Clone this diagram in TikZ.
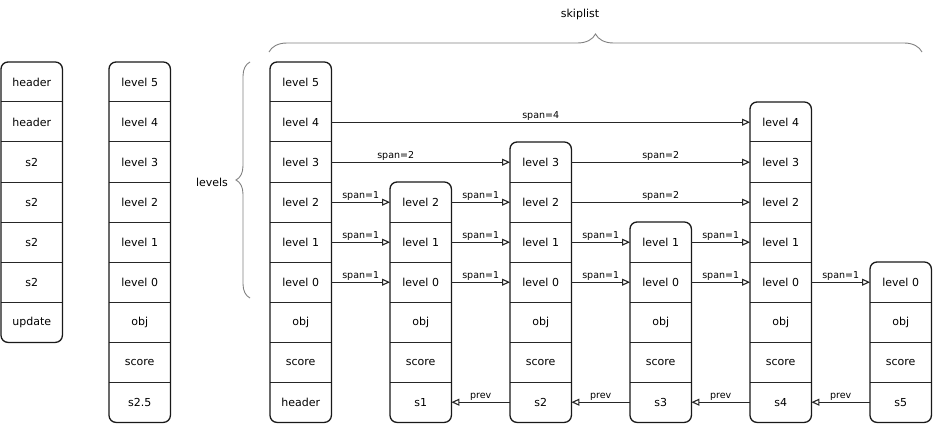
\documentclass[tikz,border=0pt]{standalone}
\usepackage{fontspec}
\setmainfont{DejaVu Sans}
\usetikzlibrary{arrows.meta,decorations.pathreplacing}
\newcommand\skipcol[5]{% #1 prefix, #2 left x, #3 top y, #4 last id, #5 list id/label
  \foreach \id/\txt [count=\i from 0] in {#5} {
    \node[cell,anchor=north west] (#1-\id) at (#2,#3+40*\i) {\txt};
    \ifnum\i>0 \draw[sep] (#1-\id.north west) -- (#1-\id.north east);\fi
  }
  \draw[colbox] (#2,#3) rectangle (#1-#4.south east);
}
\begin{document}
\begin{tikzpicture}[x=1pt,y=-1pt,
  cell/.style={minimum width=61pt,minimum height=40pt,inner sep=0pt,font=\fontsize{11}{13}\selectfont},
  colbox/.style={draw=black!90,line width=1.3pt,rounded corners=7pt},
  sep/.style={draw=black!85,line width=1pt},
  link/.style={draw=black!85,line width=1.1pt,-{Triangle[open,length=8pt,width=7pt]}},
  lbl/.style={font=\fontsize{9.5}{11}\selectfont,inner sep=1.5pt,above},
  bracestyle/.style={draw=black!50,line width=0.9pt,decorate}]
\useasboundingbox (0,0) rectangle (934,425);

\skipcol{u}{1}{62}{g}{a/header,b/header,c/s2,d/s2,e/s2,f/s2,g/update}
\skipcol{x}{109}{62}{name}{l5/level 5,l4/level 4,l3/level 3,l2/level 2,l1/level 1,l0/level 0,obj/obj,score/score,name/s2.5}
\skipcol{hd}{270}{62}{name}{l5/level 5,l4/level 4,l3/level 3,l2/level 2,l1/level 1,l0/level 0,obj/obj,score/score,name/header}
\skipcol{sa}{390}{182}{name}{l2/level 2,l1/level 1,l0/level 0,obj/obj,score/score,name/s1}
\skipcol{sb}{510}{142}{name}{l3/level 3,l2/level 2,l1/level 1,l0/level 0,obj/obj,score/score,name/s2}
\skipcol{sc}{630}{222}{name}{l1/level 1,l0/level 0,obj/obj,score/score,name/s3}
\skipcol{sd}{750}{102}{name}{l4/level 4,l3/level 3,l2/level 2,l1/level 1,l0/level 0,obj/obj,score/score,name/s4}
\skipcol{se}{870}{262}{name}{l0/level 0,obj/obj,score/score,name/s5}

% braces
\coordinate (lvA) at (250,298);
\coordinate (lvB) at (250,62);
\draw[bracestyle,decoration={brace,amplitude=14pt}] (lvA) -- (lvB);
\node[font=\fontsize{11}{13}\selectfont] (lvlabel) at (212,182) {levels};
\coordinate (skA) at (269,52);
\coordinate (skB) at (922,52);
\draw[bracestyle,decoration={brace,amplitude=18pt}] (skA) -- (skB);
\node[font=\fontsize{11}{13}\selectfont] (sklabel) at (580,14) {skiplist};

% forward links
\draw[link] (hd-l4.east) -- node[lbl]{span=4} (sd-l4.west);
\draw[link] (hd-l3.east) -- node[lbl,pos=0.36]{span=2} (sb-l3.west);
\draw[link] (sb-l3.east) -- node[lbl]{span=2} (sd-l3.west);
\draw[link] (hd-l2.east) -- node[lbl]{span=1} (sa-l2.west);
\draw[link] (sa-l2.east) -- node[lbl]{span=1} (sb-l2.west);
\draw[link] (sb-l2.east) -- node[lbl]{span=2} (sd-l2.west);
\draw[link] (hd-l1.east) -- node[lbl]{span=1} (sa-l1.west);
\draw[link] (sa-l1.east) -- node[lbl]{span=1} (sb-l1.west);
\draw[link] (sb-l1.east) -- node[lbl]{span=1} (sc-l1.west);
\draw[link] (sc-l1.east) -- node[lbl]{span=1} (sd-l1.west);
\draw[link] (hd-l0.east) -- node[lbl]{span=1} (sa-l0.west);
\draw[link] (sa-l0.east) -- node[lbl]{span=1} (sb-l0.west);
\draw[link] (sb-l0.east) -- node[lbl]{span=1} (sc-l0.west);
\draw[link] (sc-l0.east) -- node[lbl]{span=1} (sd-l0.west);
\draw[link] (sd-l0.east) -- node[lbl]{span=1} (se-l0.west);

% backward links
\draw[link] (se-name.west) -- node[lbl]{prev} (sd-name.east);
\draw[link] (sd-name.west) -- node[lbl]{prev} (sc-name.east);
\draw[link] (sc-name.west) -- node[lbl]{prev} (sb-name.east);
\draw[link] (sb-name.west) -- node[lbl]{prev} (sa-name.east);
\end{tikzpicture}
\end{document}
